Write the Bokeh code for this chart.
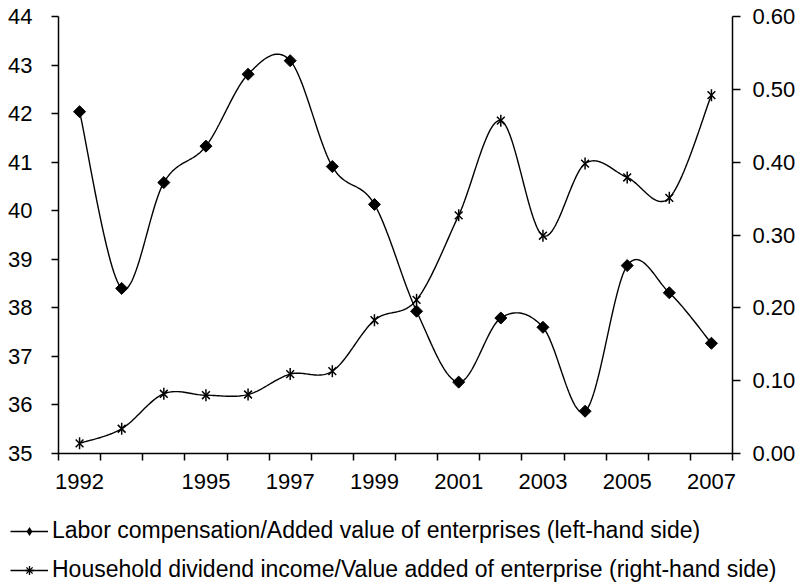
import numpy as np
from bokeh.plotting import figure
from bokeh.models import (Range1d, LinearAxis, FixedTicker, NumeralTickFormatter,
                          Legend, LegendItem)
from bokeh.embed import file_html
from bokeh.resources import INLINE

# ---------------- data ----------------
years = list(range(1992, 2008))
labor_share = [42.04, 38.40, 40.58, 41.33, 42.81, 43.09, 40.91, 40.13,
               37.93, 36.47, 37.79, 37.60, 35.87, 38.87, 38.31, 37.27]
dividend_share = [0.014, 0.034, 0.082, 0.080, 0.081, 0.109, 0.113, 0.183,
                  0.211, 0.327, 0.457, 0.299, 0.398, 0.379, 0.351, 0.492]
year_labels = [1992, 1995, 1997, 1999, 2001, 2003, 2005, 2007]
left_ticks = [35, 36, 37, 38, 39, 40, 41, 42, 43, 44]
right_ticks = [0.0, 0.1, 0.2, 0.3, 0.4, 0.5, 0.6]
labor_name = "Labor compensation/Added value of enterprises (left-hand side)"
dividend_name = "Household dividend income/Value added of enterprise (right-hand side)"

FONT = "Liberation Sans"

# ---------------- layout (pixels) ----------------
FIG_W, FIG_H = 796, 584
AX_L, AX_R, AX_T, AX_B = 58, 732, 16, 453   # where the axes sit on the canvas


def smooth(x, y, steps=30):
    """Excel-like smoothed line: cubic Bezier segments with Catmull-Rom control points."""
    P = np.column_stack([np.asarray(x, float), np.asarray(y, float)])
    Pp = np.vstack([P[:1], P, P[-1:]])
    t = np.linspace(0.0, 1.0, steps)[:, None]
    xs, ys = [], []
    for i in range(len(P) - 1):
        p0 = P[i]
        p3 = P[i + 1]
        c1 = p0 + (Pp[i + 2] - Pp[i]) / 6.0
        c2 = p3 - (Pp[i + 3] - Pp[i + 1]) / 6.0
        b = ((1 - t) ** 3) * p0 + 3 * ((1 - t) ** 2) * t * c1 + 3 * (1 - t) * t ** 2 * c2 + t ** 3 * p3
        xs.extend(b[:, 0].tolist())
        ys.extend(b[:, 1].tolist())
    return xs, ys


def padded_range(lo, hi, px_lo, px_hi, px_total, vertical=False):
    """Range whose [lo, hi] sits between pixel px_lo..px_hi of a px_total canvas."""
    scale = (hi - lo) / (px_hi - px_lo)
    if vertical:  # px measured from top
        return Range1d(lo - (px_total - px_hi) * scale, hi + px_lo * scale)
    return Range1d(lo - px_lo * scale, hi + (px_total - px_hi) * scale)


x_lo, x_hi = years[0] - 0.5, years[-1] + 0.5
y_lo, y_hi = left_ticks[0], left_ticks[-1]
r_lo, r_hi = right_ticks[0], right_ticks[-1]

p = figure(frame_width=FIG_W, frame_height=FIG_H,
           x_range=padded_range(x_lo, x_hi, AX_L, AX_R, FIG_W),
           y_range=padded_range(y_lo, y_hi, AX_T, AX_B, FIG_H, vertical=True),
           output_backend="svg", toolbar_location=None, min_border=0)
p.extra_y_ranges = {"right": padded_range(r_lo, r_hi, AX_T, AX_B, FIG_H, vertical=True)}
p.xgrid.visible = False
p.ygrid.visible = False
p.outline_line_color = None
p.background_fill_color = "white"
p.border_fill_color = "white"


def style_axis(ax, standoff):
    ax.minor_tick_line_color = None
    ax.major_tick_line_color = "black"
    ax.major_tick_line_width = 1.5
    ax.axis_line_color = "black"
    ax.axis_line_width = 1.5
    ax.major_label_text_font = FONT
    ax.major_label_text_font_size = "22px"
    ax.major_label_text_color = "black"
    ax.major_label_standoff = standoff


# ---- x axis (category boundaries as ticks, labels on selected years) ----
xa = p.xaxis[0]
style_axis(xa, 13)
boundaries = [y - 0.5 for y in years] + [years[-1] + 0.5]
xa.ticker = FixedTicker(ticks=year_labels, minor_ticks=boundaries)
xa.major_label_overrides = {y: str(y) for y in year_labels}
xa.fixed_location = y_lo
xa.bounds = (x_lo, x_hi)
xa.major_tick_line_color = None
xa.major_tick_out = 0
xa.major_tick_in = 0
xa.minor_tick_out = 7
xa.minor_tick_in = 0
xa.minor_tick_line_color = "black"
xa.minor_tick_line_width = 1.5

# ---- left axis ----
ya = p.yaxis[0]
style_axis(ya, 19)
ya.ticker = FixedTicker(ticks=left_ticks)
ya.fixed_location = x_lo
ya.bounds = (y_lo, y_hi)
ya.major_tick_out = 7
ya.major_tick_in = 0

# ---- right axis ----
ra = LinearAxis(y_range_name="right", ticker=FixedTicker(ticks=right_ticks),
                formatter=NumeralTickFormatter(format="0.00"),
                fixed_location=x_hi, bounds=(r_lo, r_hi))
style_axis(ra, 12)
ra.major_tick_out = 8
ra.major_tick_in = 0
p.add_layout(ra, "right")

# ---- series ----
lx, ly = smooth(years, labor_share)
dx, dy = smooth(years, dividend_share)

labor_line = p.line(lx, ly, line_color="black", line_width=1.4)
p.scatter(years, labor_share, marker="square", angle=np.pi / 4, size=8.5,
          fill_color="black", line_color="black")
# zero-size twin used only for the legend symbol (legend draws markers at its own size)
labor_key = p.scatter(years, labor_share, marker="diamond", size=0,
                      fill_color="black", line_color=None)

div_line = p.line(dx, dy, line_color="black", line_width=1.4, y_range_name="right")
p.scatter(years, dividend_share, marker="x", size=11, line_color="black",
          line_width=1.5, y_range_name="right")
p.scatter(years, dividend_share, marker="dash", angle=np.pi / 2, size=12,
          line_color="black", line_width=1.5, y_range_name="right")
div_key = p.scatter(years, dividend_share, marker="asterisk", size=0, line_color="black",
                    line_width=1.3, y_range_name="right")

# ---- legend (inside the full-canvas frame, below the x axis) ----
legend = Legend(items=[LegendItem(label=labor_name, renderers=[labor_line, labor_key]),
                       LegendItem(label=dividend_name, renderers=[div_line, div_key])],
                location=(10, 1))
legend.label_text_font = FONT
legend.label_text_font_size = "23px"
legend.label_text_color = "black"
legend.glyph_width = 38
legend.glyph_height = 22
legend.label_height = 26
legend.spacing = 12
legend.padding = 0
legend.margin = 0
legend.label_standoff = 4
legend.border_line_color = None
legend.background_fill_alpha = 0
p.add_layout(legend, "center")

open("out.html", "w").write(file_html(p, INLINE))
